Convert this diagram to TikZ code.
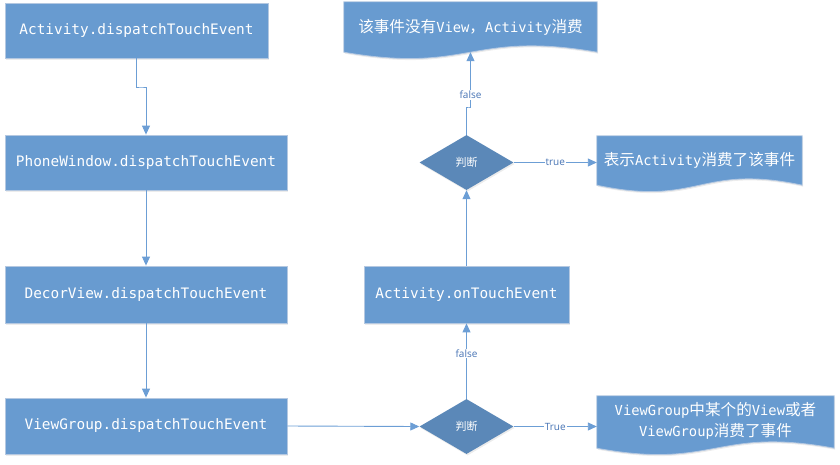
\documentclass[tikz,border=0pt]{standalone}
\usepackage{fontspec}
\setmainfont{DejaVu Sans}
\newfontfamily\mono{DejaVu Sans Mono}
\newfontfamily\cjk{Noto Sans CJK SC}
\newfontfamily\lblf{Open Sans}
\usetikzlibrary{shapes.geometric,arrows.meta,calc,shadows,backgrounds}
\definecolor{boxblue}{RGB}{104,155,208}
\definecolor{boxedge}{RGB}{180,200,225}
\definecolor{diablue}{RGB}{91,136,184}
\definecolor{lineblue}{RGB}{108,158,213}
\definecolor{lblblue}{RGB}{70,115,180}
\newcommand\lat[1]{{\mono\fontsize{13.8pt}{16pt}\selectfont #1}}
\begin{document}
\begin{tikzpicture}[x=1pt,y=-1pt,
  softshadow/.style={drop shadow={shadow xshift=1pt, shadow yshift=-1.5pt, opacity=0.25, fill=black!30}},
  proc/.style={rectangle, fill=boxblue, draw=boxedge, line width=0.8pt, text=white, inner sep=0pt,
    font=\mono\fontsize{14.4pt}{17pt}\selectfont, softshadow},
  docnode/.style={rectangle, inner sep=0pt, text=white, align=center,
    font=\cjk\fontsize{15.6pt}{22pt}\selectfont},
  docshape/.style={fill=boxblue, draw=boxedge, line width=0.8pt, softshadow},
  dec/.style={diamond, fill=diablue, text=white, inner sep=0pt, minimum width=94pt, minimum height=55pt,
    font=\cjk\fontsize{11pt}{12pt}\selectfont, softshadow},
  conn/.style={draw=lineblue, line width=0.9pt, -{Triangle[width=8pt,length=9pt]}},
  lbl/.style={fill=white, text=lblblue, inner sep=1pt, font=\lblf\fontsize{10pt}{11pt}\selectfont}
]
\useasboundingbox (0,0) rectangle (840,464);

% process boxes
\node[proc, minimum width=263pt, minimum height=55pt] (b1) at (136.5,30.5) {Activity.dispatchTouchEvent};
\node[proc, minimum width=282pt, minimum height=55pt] (b2) at (146,162.5) {PhoneWindow.dispatchTouchEvent};
\node[proc, minimum width=282pt, minimum height=57pt] (b3) at (146,294.5) {DecorView.dispatchTouchEvent};
\node[proc, minimum width=282pt, minimum height=56pt] (b4) at (146,426) {ViewGroup.dispatchTouchEvent};
\node[proc, minimum width=205pt, minimum height=57pt] (act) at (466.5,294.5) {Activity.onTouchEvent};

% decisions
\node[dec] (dm1) at (466.5,162.5) {判断};
\node[dec] (dm2) at (466.5,426.5) {判断};

% document shapes (text nodes)
\node[docnode, minimum width=253pt, minimum height=50pt] (d1) at (470.5,27) {\raisebox{3pt}{该事件没有\lat{View}，\lat{Activity}消费}};
\node[docnode, minimum width=205pt, minimum height=49pt] (d2) at (699.5,160.5) {\raisebox{3pt}{表示\lat{Activity}消费了该事件}};
\node[docnode, minimum width=237pt, minimum height=52pt] (d3) at (715.5,422) {\raisebox{3pt}{\begin{tabular}{@{}c@{}}\lat{ViewGroup}中某个的\lat{View}或者\\[-1pt]\lat{ViewGroup}消费了事件\end{tabular}}};

\begin{scope}[on background layer]
  \foreach \d in {d1,d2,d3}{
    \path[docshape] (\d.north west) -- (\d.north east) -- (\d.south east)
      .. controls ($(\d.south west)!0.5!(\d.south east)+(0,-22)$)
      and ($(\d.south west)!0.5!(\d.south east)+(0,22)$) .. (\d.south west) -- cycle;
  }
\end{scope}

% connectors
\coordinate (j1) at (141,87);
\draw[conn] (b1.south) |- (j1) -| (b2.north);
\draw[conn] (b2.south) -- (b3.north);
\draw[conn] (b3.south) -- (b4.north);
\draw[conn] (b4.east) -- (dm2.west);
\draw[conn] (dm2.north) -- node[lbl, pos=0.6] (lf2) {false} (act.south);
\draw[conn] (dm2.east) -- node[lbl] (lt2) {True} (dm2.east -| d3.west);
\draw[conn] (act.north) -- (dm1.south);
\draw[conn] (dm1.east) -- node[lbl] (lt1) {true} (dm1.east -| d2.west);
\coordinate (j2) at (469,107);
\draw[conn] (dm1.north) |- (j2) -| (d1.south);
\node[lbl] (lf1) at (470.5,95) {false};
\end{tikzpicture}
\end{document}
